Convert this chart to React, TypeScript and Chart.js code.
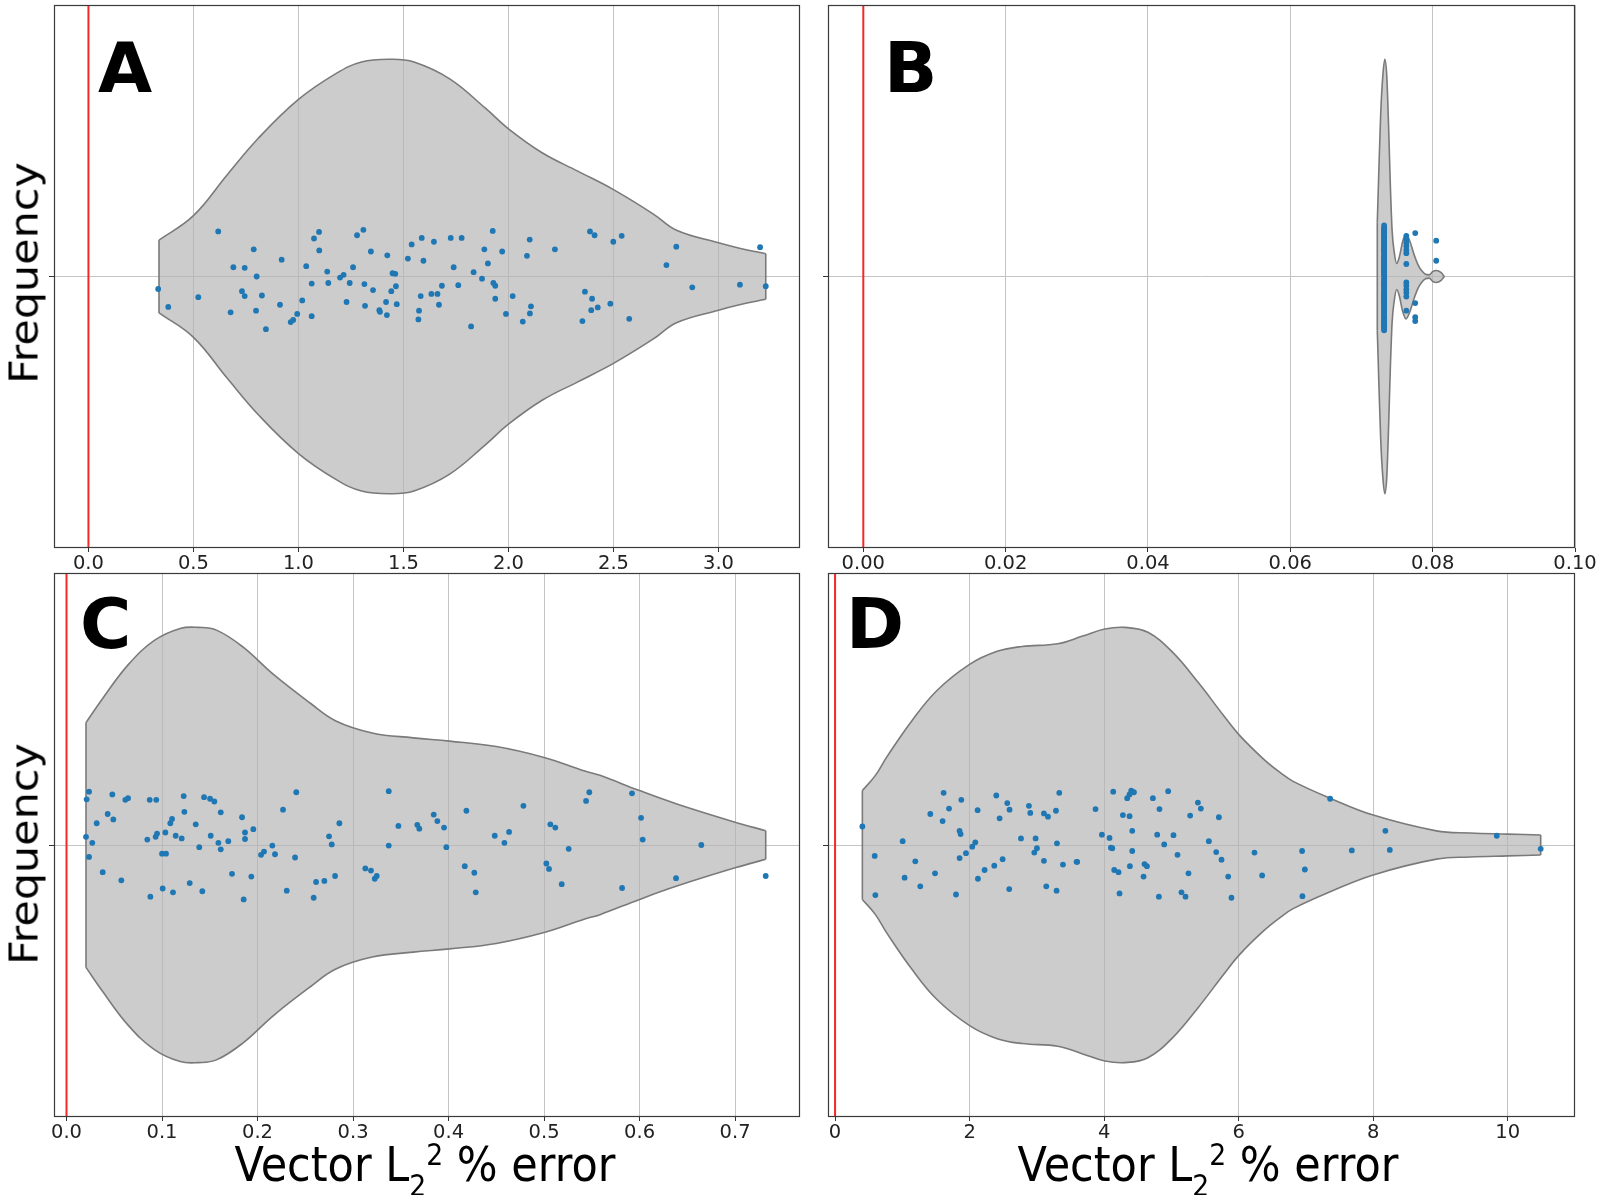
import React, { useEffect, useRef } from "react";
import { Chart, registerables } from "chart.js";

Chart.register(...registerables);

const FONT = '"DejaVu Sans", Verdana, sans-serif';
const BLUE = "#1f77b4";
const RED = "rgb(245,40,40)";
const EDGE = "#7a7a7a";
const FILL = "rgba(180,180,180,0.68)";
const GRID = "#c4c4c4";

// ---------------- Panel A ----------------
const panelATickValues = [0, 0.5, 1, 1.5, 2, 2.5, 3];
const panelATickLabels = ["0.0", "0.5", "1.0", "1.5", "2.0", "2.5", "3.0"];
const panelAValues = [
  0.332, 0.38, 0.523, 0.618, 0.69, 0.677, 0.744, 0.731, 0.744, 0.787, 0.801, 0.798, 0.826, 0.845, 0.912,
  0.92, 0.963, 0.975, 0.994, 1.018, 1.037, 1.063, 1.063, 1.074, 1.098, 1.099, 1.137, 1.142, 1.198, 1.215,
  1.229, 1.244, 1.26, 1.279, 1.309, 1.314, 1.317, 1.345, 1.355, 1.385, 1.388, 1.421, 1.417, 1.423, 1.442,
  1.448, 1.461, 1.464, 1.468, 1.521, 1.539, 1.571, 1.574, 1.582, 1.587, 1.595, 1.633, 1.645, 1.662, 1.669,
  1.683, 1.725, 1.739, 1.761, 1.777, 1.822, 1.925, 1.885, 1.902, 1.834, 1.874, 1.928, 1.937, 1.937, 1.97,
  1.988, 2.02, 2.068, 2.088, 2.101, 2.102, 2.107, 2.221, 2.352, 2.364, 2.388, 2.41, 2.398, 2.394, 2.425,
  2.485, 2.499, 2.539, 2.575, 2.752, 2.799, 2.875, 3.102, 3.198, 3.225,
];
const panelAJitter = [
  -0.023, -0.056, -0.038, 0.083, 0.017, -0.066, 0.016, -0.027, -0.036, 0.05, 0.0, -0.063, -0.035, -0.097, -0.052,
  0.031, -0.084, -0.08, -0.069, -0.044, 0.019, -0.013, -0.073, 0.07, 0.082, 0.048, 0.009, -0.012, -0.002, 0.003,
  -0.047, -0.012, 0.017, 0.076, 0.086, -0.014, -0.054, 0.046, -0.025, -0.062, -0.065, -0.071, -0.047, 0.039, -0.027,
  0.006, 0.005, -0.018, -0.051, 0.033, 0.059, -0.079, -0.063, -0.036, 0.071, 0.029, -0.032, 0.064, -0.032, -0.052,
  -0.017, 0.071, 0.017, -0.016, 0.071, -0.092, 0.084, 0.05, 0.024, 0.008, -0.004, -0.012, -0.017, -0.041, 0.046,
  -0.069, -0.036, -0.083, 0.038, 0.068, -0.068, -0.055, 0.05, -0.082, -0.028, 0.083, 0.076, -0.041, -0.062, -0.057,
  -0.05, 0.064, 0.075, -0.078, 0.021, 0.055, -0.02, -0.015, 0.054, -0.018,
];
const panelAViolinX = [
  0.336, 0.5, 0.66, 0.81, 1.0, 1.18, 1.3, 1.44, 1.55, 1.72, 1.89, 2.0, 2.16, 2.33, 2.5, 2.69, 2.8, 3.0, 3.1, 3.225,
];
const panelAViolinHalf = [
  0.067, 0.112, 0.187, 0.255, 0.326, 0.374, 0.395, 0.4, 0.395, 0.364, 0.31, 0.272, 0.228, 0.194, 0.16, 0.115, 0.085,
  0.062, 0.052, 0.042,
];

// ---------------- Panel B ----------------
const panelBTickValues = [0, 0.02, 0.04, 0.06, 0.08, 0.1];
const panelBTickLabels = ["0.00", "0.02", "0.04", "0.06", "0.08", "0.10"];
const panelBValues = [
  0.07318, 0.07318, 0.07318, 0.07318, 0.07318, 0.07318, 0.07318, 0.07318, 0.07318, 0.07318, 0.07318, 0.07318,
  0.07318, 0.07318, 0.07318, 0.07318, 0.07318, 0.07318, 0.07318, 0.07318, 0.07318, 0.07318, 0.07318, 0.07318,
  0.07318, 0.07318, 0.07318, 0.07318, 0.07318, 0.07318, 0.07318, 0.07318, 0.07318, 0.07318, 0.07318, 0.07318,
  0.07318, 0.07318, 0.07318, 0.07318, 0.07318, 0.07318, 0.07318, 0.07318, 0.07318, 0.07318, 0.07318, 0.07318,
  0.07318, 0.07318, 0.07318, 0.07318, 0.07318, 0.07318, 0.07318, 0.07318, 0.07318, 0.07318, 0.07318, 0.07318,
  0.07318, 0.07318, 0.07318, 0.07318, 0.07318, 0.07318, 0.07318, 0.07318, 0.07318, 0.07318, 0.07318, 0.07318,
  0.07318, 0.07318, 0.07318, 0.07318, 0.07318, 0.07318, 0.07318, 0.07318, 0.07318,
  0.0763, 0.0763, 0.0763, 0.0763, 0.0763, 0.0763, 0.0763, 0.0763, 0.0763, 0.0763, 0.0763, 0.0763, 0.0763,
  0.07755, 0.07755, 0.07755, 0.07755, 0.0805, 0.0805,
];
const panelBJitter = [
  0.094, 0.09, 0.087, 0.085, 0.081, 0.079, 0.074, 0.072, 0.069, 0.066, 0.063, 0.061, 0.058, 0.055, 0.053, 0.049,
  0.047, 0.044, 0.04, 0.038, 0.035, 0.031, 0.029, 0.026, 0.022, 0.02, 0.017, 0.013, 0.011, 0.008, 0.004, 0.002,
  -0.003, -0.006, -0.009, -0.013, -0.016, -0.018, -0.022, -0.025, -0.028, -0.031, -0.034, -0.038, -0.041, -0.043,
  -0.047, -0.05, -0.052, -0.056, -0.059, -0.062, -0.065, -0.067, -0.071, -0.074, -0.077, -0.08, -0.083, -0.085,
  -0.088, -0.091, -0.094, -0.096, -0.099, 0.084, 0.051, 0.033, 0.015, -0.011, -0.036, -0.054, -0.069, -0.082,
  0.067, 0.024, -0.029, -0.09, 0.077, 0.006, -0.045,
  0.075, 0.068, 0.062, 0.056, 0.049, 0.043, 0.023, -0.011, -0.017, -0.024, -0.03, -0.037, -0.063,
  0.08, -0.049, -0.075, -0.082, 0.066, 0.029,
];
const panelBViolinX = [
  0.07222, 0.07245, 0.0727, 0.073, 0.07328, 0.07355, 0.0738, 0.07405, 0.0743, 0.0746, 0.07495, 0.0753, 0.0758,
  0.07625, 0.0768, 0.0774, 0.078, 0.0785, 0.079, 0.0795, 0.08, 0.0805, 0.0812, 0.08165,
];
const panelBViolinHalf = [
  0.1, 0.2, 0.3, 0.37, 0.4, 0.37, 0.28, 0.17, 0.085, 0.045, 0.024, 0.035, 0.065, 0.078, 0.065, 0.04, 0.02, 0.01,
  0.004, 0.003, 0.009, 0.011, 0.007, 0.0,
];

// ---------------- Panel C ----------------
const panelCTickValues = [0, 0.1, 0.2, 0.3, 0.4, 0.5, 0.6, 0.7];
const panelCTickLabels = ["0.0", "0.1", "0.2", "0.3", "0.4", "0.5", "0.6", "0.7"];
const panelCValues = [
  0.0211, 0.0236, 0.0204, 0.027, 0.0236, 0.0316, 0.0379, 0.0431, 0.048, 0.049, 0.0574, 0.0616, 0.0644, 0.0846,
  0.0871, 0.0878, 0.094, 0.0933, 0.0948, 0.1, 0.1042, 0.1007, 0.1035, 0.1087, 0.1105, 0.1115, 0.1143, 0.1206,
  0.1227, 0.1234, 0.129, 0.1353, 0.139, 0.1422, 0.144, 0.1503, 0.1548, 0.151, 0.159, 0.1615, 0.1615, 0.1694,
  0.1733, 0.1838, 0.1869, 0.1869, 0.1855, 0.1935, 0.1956, 0.2037, 0.2068, 0.2155, 0.2183, 0.2267, 0.2306, 0.2393,
  0.2406, 0.2588, 0.2613, 0.27, 0.2812, 0.2749, 0.2777, 0.2857, 0.3129, 0.3188, 0.3227, 0.3248, 0.3374, 0.3374,
  0.3475, 0.3673, 0.3694, 0.3845, 0.3883, 0.3953, 0.3977, 0.4187, 0.417, 0.427, 0.4285, 0.4484, 0.4634, 0.4585,
  0.4784, 0.5024, 0.5052, 0.5066, 0.5118, 0.5258, 0.5185, 0.544, 0.5474, 0.5817, 0.5921, 0.6016, 0.6033, 0.6382,
  0.6647, 0.7321,
];
const panelCJitter = [
  0.084, 0.098, 0.015, 0.004, -0.022, 0.04, -0.05, 0.057, 0.093, 0.047, -0.065, 0.083, 0.086, 0.01, 0.083, -0.095,
  0.083, 0.015, 0.021, -0.016, -0.016, -0.08, 0.023, 0.04, 0.048, -0.087, 0.017, 0.012, 0.09, 0.061, -0.07, 0.038,
  -0.004, -0.085, 0.088, 0.085, 0.08, 0.017, 0.004, 0.06, -0.008, 0.007, -0.053, 0.051, 0.023, 0.011, -0.1, -0.058,
  0.029, -0.018, -0.012, -0.001, -0.017, 0.065, -0.084, -0.023, 0.097, -0.097, -0.068, -0.066, -0.057, 0.016, 0.001,
  0.04, -0.043, -0.047, -0.062, -0.057, 0.099, -0.001, 0.035, 0.037, 0.03, 0.056, 0.044, 0.032, -0.004, 0.063,
  -0.039, -0.051, -0.087, 0.017, 0.024, 0.004, 0.072, -0.034, -0.044, 0.038, 0.032, -0.007, -0.072, 0.081, 0.097,
  -0.079, 0.095, 0.05, 0.01, -0.061, 0.0, -0.057,
];
const panelCViolinX = [
  0.0204, 0.0377, 0.0649, 0.092, 0.119, 0.138, 0.157, 0.184, 0.217, 0.255, 0.282, 0.32, 0.363, 0.401, 0.45, 0.5,
  0.5427, 0.5586, 0.6, 0.639, 0.7, 0.7321,
];
const panelCViolinHalf = [
  0.225, 0.269, 0.332, 0.376, 0.398, 0.4, 0.395, 0.365, 0.313, 0.261, 0.228, 0.206, 0.197, 0.191, 0.181, 0.161,
  0.136, 0.128, 0.1, 0.0755, 0.042, 0.0263,
];

// ---------------- Panel D ----------------
const panelDTickValues = [0, 2, 4, 6, 8, 10];
const panelDTickLabels = ["0", "2", "4", "6", "8", "10"];
const panelDValues = [
  0.406, 0.589, 0.599, 1.005, 1.034, 1.193, 1.267, 1.416, 1.486, 1.614, 1.599, 1.694, 1.798, 1.877, 1.851, 1.866,
  1.851, 1.946, 2.04, 2.085, 2.119, 2.124, 2.223, 2.367, 2.397, 2.446, 2.491, 2.56, 2.594, 2.589, 2.764, 2.882,
  2.902, 2.981, 3.001, 2.962, 3.105, 3.165, 3.105, 3.14, 3.293, 3.284, 3.299, 3.333, 3.388, 3.59, 3.6, 3.872,
  3.967, 4.08, 4.101, 4.121, 4.135, 4.15, 4.214, 4.229, 4.279, 4.343, 4.378, 4.403, 4.443, 4.378, 4.418, 4.418,
  4.383, 4.586, 4.6, 4.636, 4.725, 4.823, 4.789, 4.893, 4.814, 4.952, 5.031, 5.091, 5.394, 5.438, 5.279, 5.706,
  5.557, 5.666, 5.745, 5.254, 5.844, 5.15, 5.21, 5.893, 6.235, 6.349, 6.943, 6.984, 6.948, 7.36, 7.682, 8.181,
  8.247, 9.837, 10.49,
];
const panelDJitter = [
  0.034, -0.02, -0.092, 0.007, -0.06, -0.03, -0.076, 0.057, -0.052, 0.096, 0.044, 0.067, -0.091, 0.083, 0.026,
  0.02, -0.024, -0.015, -0.003, 0.005, 0.064, -0.062, -0.046, -0.038, 0.091, 0.049, -0.026, 0.077, 0.065, -0.081,
  0.012, 0.072, 0.059, 0.012, -0.006, -0.014, 0.058, 0.052, -0.029, -0.076, -0.084, 0.063, 0.003, 0.096, -0.036,
  -0.031, -0.031, 0.066, 0.019, 0.013, -0.005, -0.006, 0.098, -0.046, -0.05, -0.089, 0.055, 0.086, 0.093, 0.1,
  0.097, 0.053, 0.026, -0.011, -0.039, -0.058, -0.035, -0.039, 0.086, 0.066, 0.019, 0.001, -0.095, 0.099, 0.018,
  -0.018, 0.078, 0.067, 0.054, 0.051, 0.007, -0.013, -0.027, -0.052, -0.058, -0.087, -0.095, -0.097, -0.014,
  -0.056, -0.011, -0.045, -0.094, 0.085, -0.01, 0.026, -0.009, 0.017, -0.007,
];
const panelDViolinX = [
  0.406, 0.6, 0.77, 1.14, 1.515, 2.0, 2.41, 2.78, 3.31, 3.68, 4.01, 4.31, 4.65, 5.02, 5.4, 5.77, 6.01, 6.37, 6.62,
  6.81, 7.36, 8.0, 8.94, 9.44, 10.0, 10.49,
];
const panelDViolinHalf = [
  0.1, 0.128, 0.162, 0.228, 0.284, 0.332, 0.356, 0.365, 0.37, 0.384, 0.397, 0.4, 0.391, 0.354, 0.2985, 0.239,
  0.202, 0.158, 0.133, 0.117, 0.086, 0.055, 0.026, 0.022, 0.02, 0.0184,
];

type PanelSpec = {
  id: string;
  left: number;
  top: number;
  right: number;
  bottom: number;
  padRight: number;
  xMin: number;
  xMax: number;
  tickValues: number[];
  tickLabels: string[];
  values: number[];
  jitter: number[];
  vx: number[];
  vh: number[];
  monotone: boolean;
};

const Y_AXIS_W = 10;
const X_AXIS_H = 34;
const PAD_TOP = 3;

const panels: PanelSpec[] = [
  {
    id: "A", left: 54, top: 4, right: 800, bottom: 548, padRight: 20, xMin: -0.164, xMax: 3.388,
    tickValues: panelATickValues, tickLabels: panelATickLabels, values: panelAValues, jitter: panelAJitter,
    vx: panelAViolinX, vh: panelAViolinHalf, monotone: false,
  },
  {
    id: "B", left: 828, top: 4, right: 1575, bottom: 548, padRight: 34, xMin: -0.00496, xMax: 0.1,
    tickValues: panelBTickValues, tickLabels: panelBTickLabels, values: panelBValues, jitter: panelBJitter,
    vx: panelBViolinX, vh: panelBViolinHalf, monotone: true,
  },
  {
    id: "C", left: 54, top: 572, right: 800, bottom: 1117, padRight: 20, xMin: -0.0131, xMax: 0.768,
    tickValues: panelCTickValues, tickLabels: panelCTickLabels, values: panelCValues, jitter: panelCJitter,
    vx: panelCViolinX, vh: panelCViolinHalf, monotone: false,
  },
  {
    id: "D", left: 828, top: 572, right: 1575, bottom: 1117, padRight: 34, xMin: -0.105, xMax: 11.0,
    tickValues: panelDTickValues, tickLabels: panelDTickLabels, values: panelDValues, jitter: panelDJitter,
    vx: panelDViolinX, vh: panelDViolinHalf, monotone: false,
  },
];

const framePlugin = {
  id: "frame",
  afterDatasetsDraw(chart: any) {
    const { ctx, chartArea } = chart;
    ctx.save();
    ctx.strokeStyle = "#3a3a3a";
    ctx.lineWidth = 1.2;
    const l = Math.round(chartArea.left) + 0.5;
    const t = Math.round(chartArea.top) + 0.5;
    const r = Math.round(chartArea.right) - 0.5;
    const b = Math.round(chartArea.bottom) - 0.5;
    ctx.strokeRect(l, t, r - l, b - t);
    ctx.restore();
  },
};

function PanelChart({ spec }: { spec: PanelSpec }) {
  const ref = useRef<HTMLCanvasElement>(null);
  const w = Y_AXIS_W + (spec.right - spec.left) + spec.padRight;
  const h = PAD_TOP + (spec.bottom - spec.top) + X_AXIS_H;
  useEffect(() => {
    const canvas = ref.current;
    if (!canvas) return;
    const s = spec;
    const pts = s.values.map((v, i) => ({ x: v, y: s.jitter[i] }));
    const upper = s.vx.map((x, i) => ({ x, y: s.vh[i] }));
    const lower = s.vx.map((x, i) => ({ x, y: -s.vh[i] }));
    const n = s.vx.length;
    const curve = s.monotone
      ? { cubicInterpolationMode: "monotone" }
      : { cubicInterpolationMode: "default", tension: 0.4 };
    const lineBase = {
      borderColor: EDGE,
      borderWidth: 1.6,
      pointRadius: 0,
      showLine: true,
      fill: false,
    };
    const chart = new Chart(canvas, {
      type: "line",
      data: {
        datasets: [
          {
            label: "points",
            data: pts,
            showLine: false,
            pointRadius: 2.9,
            pointBackgroundColor: BLUE,
            pointBorderColor: BLUE,
            pointBorderWidth: 0,
            order: 0,
          },
          {
            label: "zero",
            data: [
              { x: 0, y: -0.5 },
              { x: 0, y: 0.5 },
            ],
            borderColor: RED,
            borderWidth: 2,
            pointRadius: 0,
            fill: false,
            order: 1,
          },
          {
            ...lineBase,
            ...curve,
            label: "violin-upper",
            data: upper,
            order: 3,
          },
          {
            ...lineBase,
            ...curve,
            label: "violin-lower",
            data: lower,
            fill: "-1",
            backgroundColor: FILL,
            order: 4,
          },
          {
            ...lineBase,
            label: "cap-left",
            data: [
              { x: s.vx[0], y: s.vh[0] },
              { x: s.vx[0], y: -s.vh[0] },
            ],
            order: 3,
          },
          {
            ...lineBase,
            label: "cap-right",
            data: [
              { x: s.vx[n - 1], y: s.vh[n - 1] },
              { x: s.vx[n - 1], y: -s.vh[n - 1] },
            ],
            order: 3,
          },
        ],
      },
      options: {
        responsive: false,
        animation: false,
        events: [],
        layout: { padding: { top: PAD_TOP, right: s.padRight, bottom: 0, left: 0 } },
        plugins: { legend: { display: false }, tooltip: { enabled: false }, title: { display: false } },
        scales: {
          x: {
            type: "linear",
            min: s.xMin,
            max: s.xMax,
            afterBuildTicks: (sc: any) => {
              sc.ticks = s.tickValues.map((v) => ({ value: v }));
            },
            afterFit: (sc: any) => {
              sc.height = X_AXIS_H;
            },
            ticks: {
              callback: (_v: any, i: number) => s.tickLabels[i],
              font: { family: FONT, size: 19.5 },
              color: "#222",
              padding: 0,
              maxRotation: 0,
              minRotation: 0,
              autoSkip: false,
            },
            grid: { color: GRID, lineWidth: 1, tickLength: 4, tickColor: "#333", drawTicks: true },
            border: { display: false },
          },
          y: {
            type: "linear",
            min: -0.5,
            max: 0.5,
            afterBuildTicks: (sc: any) => {
              sc.ticks = [{ value: 0 }];
            },
            afterFit: (sc: any) => {
              sc.width = Y_AXIS_W;
            },
            ticks: { display: false },
            grid: { color: GRID, lineWidth: 1, tickLength: 5, tickColor: "#333", drawTicks: true },
            border: { display: false },
          },
        },
      },
      plugins: [framePlugin],
    } as any);
    return () => chart.destroy();
  }, [spec]);
  return (
    <canvas
      ref={ref}
      width={w}
      height={h}
      style={{
        position: "absolute",
        left: spec.left - Y_AXIS_W,
        top: spec.top - PAD_TOP,
        width: w,
        height: h,
      }}
    />
  );
}

const letterStyle = (left: number, top: number): React.CSSProperties => ({
  position: "absolute",
  left,
  top,
  fontFamily: FONT,
  fontWeight: 700,
  fontSize: 70,
  lineHeight: "70px",
  color: "#000",
  whiteSpace: "nowrap",
});

const freqStyle = (cx: number, cy: number): React.CSSProperties => ({
  position: "absolute",
  left: cx,
  top: cy,
  fontFamily: FONT,
  fontSize: 39,
  lineHeight: "39px",
  color: "#000",
  whiteSpace: "nowrap",
  transform: "translate(-50%, -50%) rotate(-90deg) scale(1.1, 1)",
});

const xTitleStyle = (cx: number, top: number): React.CSSProperties => ({
  position: "absolute",
  left: cx,
  top,
  fontFamily: FONT,
  fontSize: 43,
  lineHeight: "43px",
  color: "#000",
  whiteSpace: "nowrap",
  transformOrigin: "0 0",
  transform: "translateX(-50%) scale(1, 1.1)",
});

const subStyle: React.CSSProperties = { fontSize: "0.62em", position: "relative", top: 14 };
const supStyle: React.CSSProperties = { fontSize: "0.62em", position: "relative", top: -14 };

function XTitle({ cx }: { cx: number }) {
  return (
    <div style={xTitleStyle(cx, 1141)}>
      Vector L<span style={subStyle}>2</span>
      <span style={supStyle}>2</span> % error
    </div>
  );
}

export default function App() {
  return (
    <div
      style={{
        position: "absolute",
        left: 0,
        top: 0,
        width: 1609,
        height: 1195,
        background: "#fff",
        overflow: "hidden",
      }}
    >
      {panels.map((p) => (
        <PanelChart key={p.id} spec={p} />
      ))}
      <div style={letterStyle(98, 33)}>A</div>
      <div style={letterStyle(884, 33)}>B</div>
      <div style={letterStyle(80, 589)}>C</div>
      <div style={letterStyle(846, 589)}>D</div>
      <div style={freqStyle(24, 273)}>Frequency</div>
      <div style={freqStyle(24, 854)}>Frequency</div>
      <XTitle cx={425} />
      <XTitle cx={1208} />
    </div>
  );
}
